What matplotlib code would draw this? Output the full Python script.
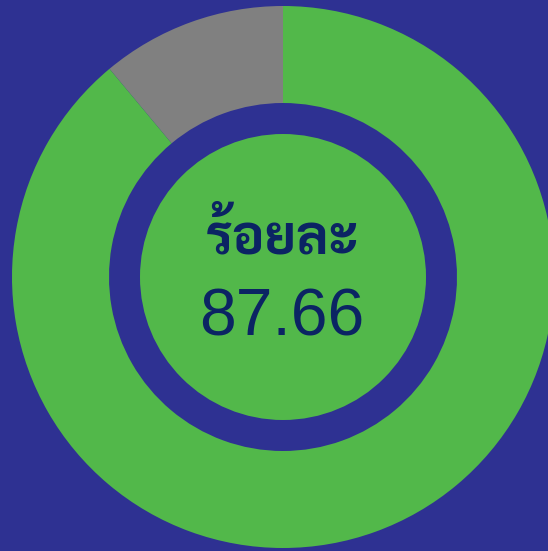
import matplotlib
matplotlib.use("Agg")
import matplotlib.pyplot as plt

# data
labels = ["ไม่ใช่", "ใช่"]
values = [11.06, 88.94]
colors = ["#808080", "#52B84A"]
title_text = "ร้อยละ"
value_text = "87.66"

BG = "#2E3192"
TXT = "#0B2463"

W, H = 548, 551
fig = plt.figure(figsize=(W / 100, H / 100), dpi=100, facecolor=BG)
ax = fig.add_axes([0, 0, 1, 1])
ax.set_facecolor(BG)

cx, cy = 283, H - 277
R_out, R_in, R_c = 271, 174, 143

ax.pie(values, colors=colors, startangle=90, counterclock=True, radius=R_out,
       center=(cx, cy), wedgeprops=dict(width=R_out - R_in, linewidth=0),
       frame=True)
ax.set_xlim(0, W)
ax.set_ylim(0, H)
ax.set_aspect("equal")
ax.axis("off")
circle = plt.Circle((cx, cy), R_c, color=colors[1], linewidth=0)
ax.add_patch(circle)

ax.text(282.5, H - 254, title_text, ha="center", va="baseline", fontsize=39,
        fontweight="bold", color=TXT, family=["Sarabun", "DejaVu Sans"])
ax.text(282, H - 335, value_text, ha="center", va="baseline", fontsize=47.5,
        color=TXT, family=["Liberation Sans", "DejaVu Sans"])

fig.savefig("out.png", dpi=100, facecolor=BG)
